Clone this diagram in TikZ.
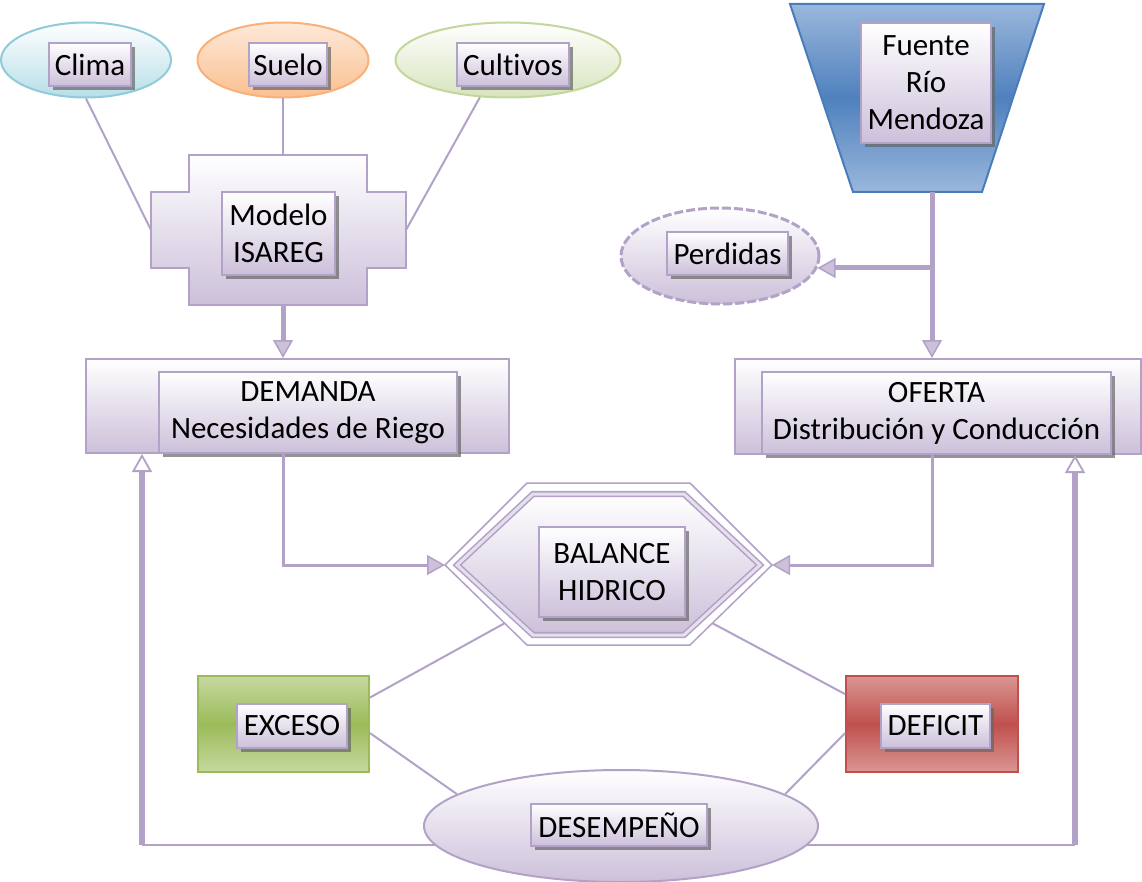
\documentclass[tikz,border=0pt]{standalone}
\usepackage{fontspec}
\setmainfont{Carlito}[Ligatures=NoCommon]
\usetikzlibrary{arrows.meta,shapes.geometric,shadows}

\definecolor{morado}{HTML}{B3A2C7}
\definecolor{lila}{HTML}{CCC0DA}
\definecolor{lilaC}{HTML}{E6E0EE}
\definecolor{azulM}{HTML}{4F81BD}
\definecolor{azulC}{HTML}{9AB7DC}
\definecolor{azulB}{HTML}{4A7CBA}
\definecolor{verdeM}{HTML}{9BBB59}
\definecolor{verdeC}{HTML}{C6D9A0}
\definecolor{rojoM}{HTML}{C0504D}
\definecolor{rojoC}{HTML}{DA9694}
\definecolor{celeste}{HTML}{B7DEE8}
\definecolor{celesteB}{HTML}{8FCBDA}
\definecolor{naranja}{HTML}{FAC090}
\definecolor{naranjaB}{HTML}{F9B07A}
\definecolor{naranjaC}{HTML}{FDE9D9}
\definecolor{oliva}{HTML}{D7E4BD}
\definecolor{olivaB}{HTML}{C3D69B}

\begin{document}
\begin{tikzpicture}[x=1pt, y=-1pt, font=\fontsize{31}{37}\selectfont,
    caja/.style={draw=morado, line width=1.5pt, top color=white, bottom color=lila,
        align=center, inner sep=0pt,
        drop shadow={shadow xshift=4pt, shadow yshift=-4pt, fill=black!60, opacity=0.7}},
    elipse/.style={ellipse, line width=2pt, inner sep=0pt},
    marco/.style={draw=morado, line width=2pt, top color=white, bottom color=lila, inner sep=0pt},
    linea/.style={draw=morado, line width=2pt},
    flujo/.style={draw=morado, line width=5pt,
        -{Triangle[length=18pt, width=20pt, line width=1.5pt, fill=lila]}},
    retorno/.style={draw=morado, line width=5.5pt,
        -{Triangle[length=18pt, width=20pt, line width=1.8pt, fill=white]}}]
    \useasboundingbox (0,0) rectangle (1142,882);

    % Entradas del modelo
    \node[elipse, draw=celesteB, top color=white, bottom color=celeste,
        minimum width=170pt, minimum height=75pt] (clima) at (86,60) {};
    \node[elipse, draw=naranjaB, top color=naranjaC, bottom color=naranja,
        minimum width=171pt, minimum height=75pt] (suelo) at (283,60) {};
    \node[elipse, draw=olivaB, top color=white, bottom color=oliva,
        minimum width=225pt, minimum height=75pt] (cultivos) at (508,60) {};
    \node[caja, minimum width=82pt, minimum height=43pt] (climaT) at (90,64.5) {Clima};
    \node[caja, minimum width=78pt, minimum height=43pt] (sueloT) at (288,64.5) {Suelo};
    \node[caja, minimum width=112pt, minimum height=43pt] (cultivosT) at (513,64.5) {Cultivos};

    % Modelo ISAREG (cruz)
    \draw[marco] (189,155) -- (367,155) -- (367,192) -- (406,192) -- (406,268) -- (367,268)
        -- (367,305) -- (189,305) -- (189,268) -- (151,268) -- (151,192) -- (189,192) -- cycle;
    \coordinate (cruzI) at (151,230);
    \coordinate (cruzD) at (406,230);
    \coordinate (cruzA) at (283,155);
    \coordinate (cruzB) at (283,305);
    \node[caja, minimum width=113pt, minimum height=83pt] (modeloT) at (278.5,233.5) {Modelo\\ISAREG};

    % Fuente
    \draw[draw=azulB, line width=2pt, top color=azulC, bottom color=azulC, middle color=azulM]
        (790,4) -- (1044,4) -- (982,192) -- (853,192) -- cycle;
    \coordinate (fuenteB) at (932,192);
    \node[caja, minimum width=130pt, minimum height=120pt] (fuenteT) at (926,83) {Fuente\\Río\\Mendoza};

    % Perdidas
    \node[elipse, draw=morado, line width=3pt, dash pattern=on 9pt off 3pt,
        top color=white, bottom color=lila, minimum width=198pt, minimum height=96pt] (perdidas) at (720,256) {};
    \node[caja, minimum width=121pt, minimum height=43pt] (perdidasT) at (727.5,253.5) {Perdidas};

    % Demanda y oferta
    \node[marco, minimum width=423pt, minimum height=94pt] (demanda) at (297.5,406) {};
    \node[caja, minimum width=298pt, minimum height=81pt] (demandaT) at (308,412.5) {DEMANDA\\Necesidades de Riego};
    \node[marco, minimum width=406pt, minimum height=95pt] (oferta) at (937.5,406.5) {};
    \node[caja, minimum width=349pt, minimum height=82pt] (ofertaT) at (936.5,413) {OFERTA\\Distribución y Conducción};

    % Balance (hexagono doble)
    \draw[draw=morado, line width=1.5pt, fill=white]
        (445,565) -- (527,483) -- (690,483) -- (772,565) -- (690,645) -- (527,645) -- cycle;
    \draw[draw=morado, line width=1.6pt, double=lilaC, double distance=3pt, top color=white, bottom color=lila]
        (457,565) -- (533,494) -- (684,494) -- (760,565) -- (684,635) -- (533,635) -- cycle;
    \coordinate (balI) at (445,565);
    \coordinate (balD) at (772,565);
    \coordinate (balSI) at (505,623);
    \coordinate (balSD) at (712,623);
    \node[caja, minimum width=146pt, minimum height=90pt] (balanceT) at (612,572) {BALANCE\\HIDRICO};

    % Exceso, deficit y desempeño
    \node[draw=verdeM, line width=2pt, top color=verdeC, bottom color=verdeC, middle color=verdeM,
        minimum width=171pt, minimum height=96pt] (exceso) at (283.5,724) {};
    \node[caja, minimum width=110pt, minimum height=44pt] (excesoT) at (292,726) {EXCESO};
    \node[draw=rojoM, line width=2pt, top color=rojoC, bottom color=rojoC, middle color=rojoM,
        minimum width=172pt, minimum height=96pt] (deficit) at (932,724) {};
    \node[caja, minimum width=109pt, minimum height=44pt] (deficitT) at (935.5,726) {DEFICIT};
    \node[elipse, draw=morado, top color=white, bottom color=lila,
        minimum width=394pt, minimum height=112pt] (desempeno) at (621,826) {};
    \node[caja, minimum width=176pt, minimum height=42pt] (desempenoT) at (619,825) {DESEMPEÑO};

    % Conexiones
    \draw[linea] (clima.south) -- (cruzI);
    \draw[linea] (suelo.south) -- (cruzA);
    \draw[linea] (cultivos.233) -- (cruzD);
    \draw[flujo] (cruzB) -- (cruzB |- demanda.north);
    \draw[flujo] (fuenteB) -- (fuenteB |- oferta.north);
    \draw[flujo] (fuenteB |- perdidas.353) -- (perdidas.353);
    \draw[flujo, line width=3pt] (cruzB |- demanda.south) |- (balI);
    \draw[flujo, line width=3pt] (fuenteB |- oferta.south) |- (balD);
    \draw[linea] (balSI) -- (exceso.17);
    \draw[linea] (exceso.-6) -- (desempeno.169);
    \draw[linea] (balSD) -- (deficit.161);
    \draw[linea] (deficit.186) -- (desempeno.11);

    % Retorno del desempeño
    \coordinate (esqI) at (142,845);
    \coordinate (esqD) at (1075,845);
    \draw[linea] (esqI -| desempeno.186) -- (esqI);
    \draw[retorno] (esqI) -- (esqI |- demanda.south);
    \draw[linea] (esqD -| desempeno.-6) -- (esqD);
    \draw[retorno] (esqD) -- (esqD |- oferta.south);
\end{tikzpicture}
\end{document}
